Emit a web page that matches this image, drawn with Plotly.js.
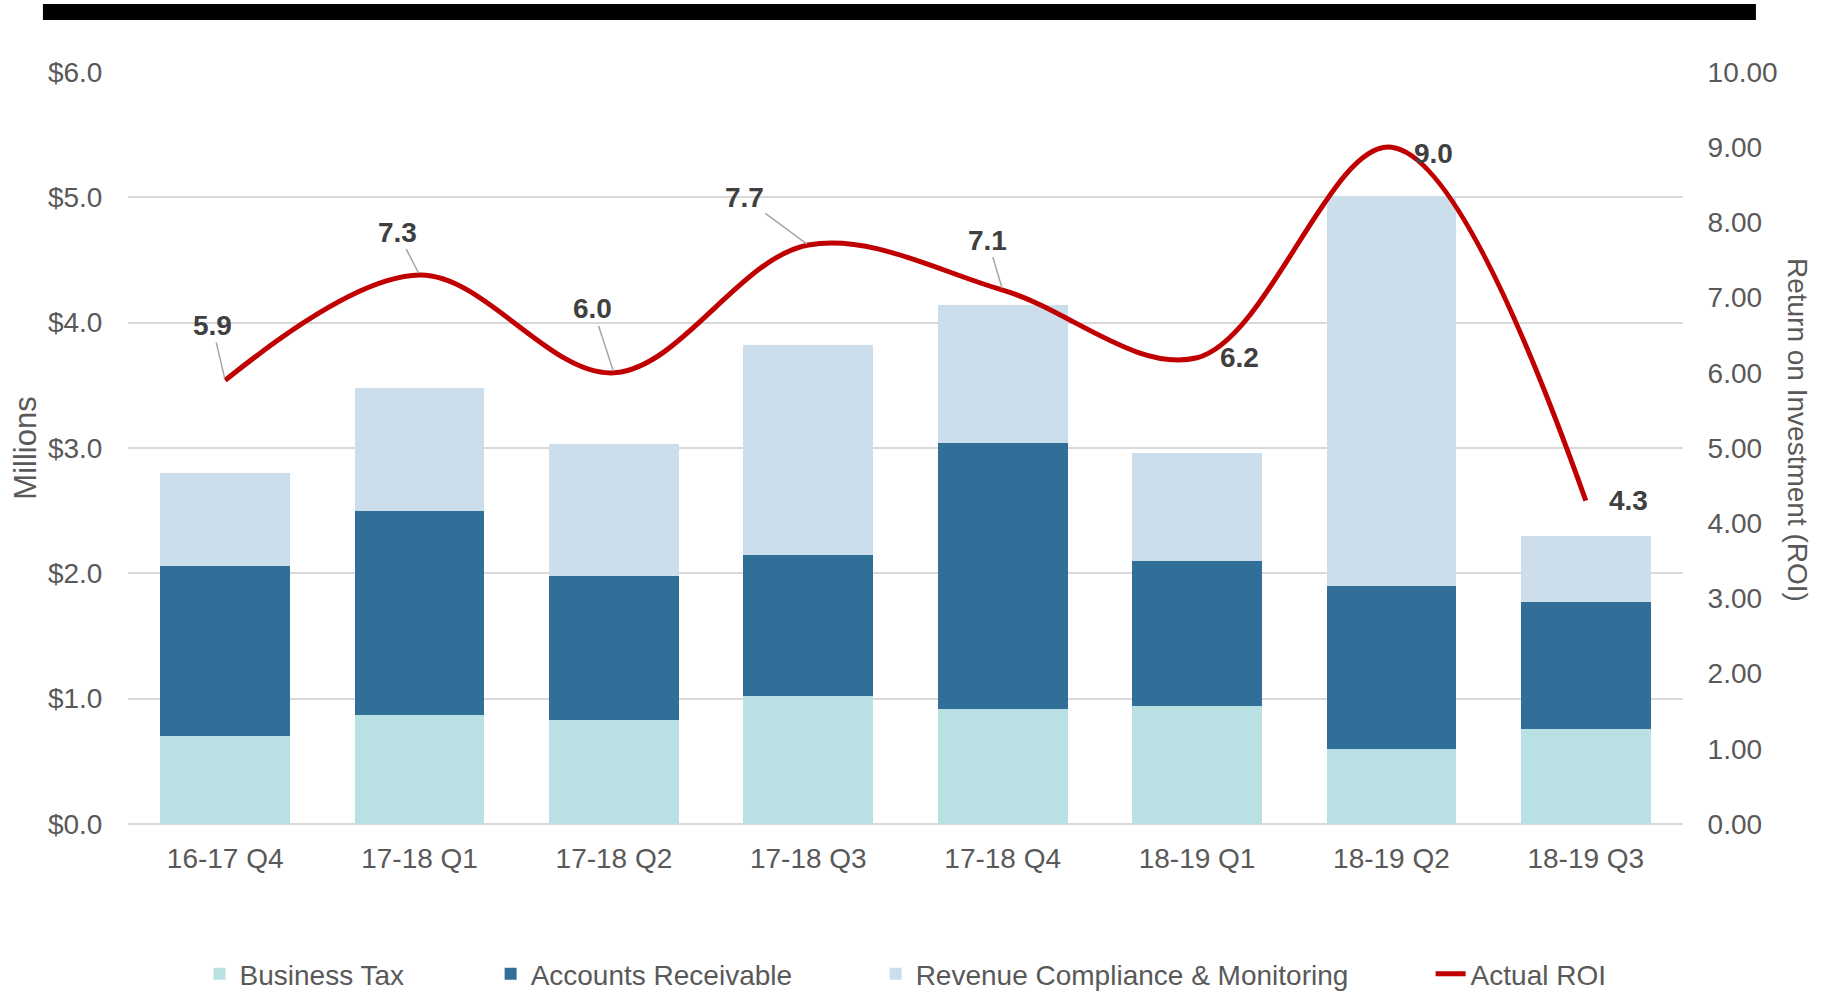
<!DOCTYPE html>
<html><head><meta charset="utf-8">
<script src="https://cdn.plot.ly/plotly-3.0.1.min.js"></script>
<style>html,body{margin:0;padding:0;background:#fff;} #chart{width:1827px;height:992px;}</style>
</head><body><div id="chart"></div>
<script>
// ---- data ----
const categories = ['16-17 Q4','17-18 Q1','17-18 Q2','17-18 Q3','17-18 Q4','18-19 Q1','18-19 Q2','18-19 Q3'];
const businessTax = [0.70, 0.87, 0.83, 1.02, 0.92, 0.94, 0.60, 0.76];
const accountsReceivable = [1.36, 1.63, 1.15, 1.13, 2.12, 1.16, 1.30, 1.01];
const revenueCompliance = [0.74, 0.98, 1.05, 1.67, 1.10, 0.86, 3.11, 0.53];
const actualROI = [5.9, 7.3, 6.0, 7.7, 7.1, 6.2, 9.0, 4.3];
const seriesNames = ['Business Tax', 'Accounts Receivable', 'Revenue Compliance & Monitoring', 'Actual ROI'];

// ---- styles / label placement ----
const FONT = 'Liberation Sans, Arial, sans-serif';
const GREY = '#595959';
const colors = ['#B9E0E3', '#316F99', '#CCDEEB', '#C00000'];
// label offset (px) from its point, and whether a leader line is drawn
const labelPlacement = [
  {dx: -13, dy: -55, leader: true},
  {dx: -22, dy: -43, leader: true},
  {dx: -21, dy: -64, leader: true},
  {dx: -64, dy: -47, leader: true},
  {dx: -15, dy: -50, leader: true},
  {dx: 42, dy: 0, leader: false},
  {dx: 42, dy: 6, leader: false},
  {dx: 43, dy: 0, leader: false}
];
const legendX = [0.0460, 0.2332, 0.4808, 0.8377];

const traces = [
  {type: 'bar', name: seriesNames[0], x: categories, y: businessTax, marker: {color: colors[0]}, legend: 'legend'},
  {type: 'bar', name: seriesNames[1], x: categories, y: accountsReceivable, marker: {color: colors[1]}, legend: 'legend2'},
  {type: 'bar', name: seriesNames[2], x: categories, y: revenueCompliance, marker: {color: colors[2]}, legend: 'legend3'},
  {type: 'scatter', mode: 'lines', name: seriesNames[3], x: categories, y: actualROI, yaxis: 'y2',
   line: {color: colors[3], width: 5, shape: 'spline', smoothing: 1}, legend: 'legend4'}
];

const annotations = actualROI.map((v, i) => {
  const p = labelPlacement[i];
  const a = {
    x: categories[i], y: v, xref: 'x', yref: 'y2',
    text: v.toFixed(1),
    font: {family: FONT, size: 28, color: '#404040', weight: 'bold'},
  };
  if (p.leader) {
    Object.assign(a, {showarrow: true, ax: p.dx, ay: p.dy, arrowhead: 0, arrowwidth: 1.5, arrowcolor: '#A6A6A6', standoff: 2});
  } else {
    Object.assign(a, {showarrow: false, xshift: p.dx, yshift: -p.dy});
  }
  return a;
});
annotations.push({
  xref: 'paper', yref: 'paper', x: 1.0733, y: 0.524, xanchor: 'center', yanchor: 'middle',
  text: 'Return on Investment (ROI)',
  textangle: 90, showarrow: false, font: {family: FONT, size: 28, color: GREY}
});

function legendCfg(x) {
  return {orientation: 'h', x: x, xanchor: 'left', yref: 'container', y: 0.018, yanchor: 'middle',
          font: {family: FONT, size: 28, color: GREY}, bgcolor: 'rgba(0,0,0,0)', borderwidth: 0};
}

const layout = {
  width: 1827, height: 992,
  margin: {l: 128, r: 144, t: 72, b: 168, autoexpand: false},
  paper_bgcolor: '#fff', plot_bgcolor: '#fff',
  font: {family: FONT, size: 28, color: GREY},
  barmode: 'stack', bargap: 0.333,
  showlegend: true,
  legend: legendCfg(legendX[0]),
  legend2: legendCfg(legendX[1]),
  legend3: legendCfg(legendX[2]),
  legend4: legendCfg(legendX[3]),
  xaxis: {type: 'category', showgrid: false, showline: false, zeroline: false,
          ticks: 'outside', ticklen: 9, tickcolor: 'rgba(0,0,0,0)',
          tickfont: {family: FONT, size: 28, color: GREY}},
  yaxis: {range: [0, 6], dtick: 1, tickprefix: '$', tickformat: '.1f',
          showgrid: true, gridcolor: '#D9D9D9', gridwidth: 2,
          zeroline: true, zerolinecolor: '#D9D9D9', zerolinewidth: 2, showline: false,
          ticks: 'outside', ticklen: 19, tickcolor: 'rgba(0,0,0,0)',
          tickfont: {family: FONT, size: 28, color: GREY},
          title: {text: 'Millions', font: {family: FONT, size: 31, color: GREY}, standoff: 2}},
  yaxis2: {range: [0, 10], dtick: 1, tickformat: '.2f', overlaying: 'y', side: 'right',
           showgrid: false, zeroline: false, showline: false,
           ticks: 'outside', ticklen: 18, tickcolor: 'rgba(0,0,0,0)',
           tickfont: {family: FONT, size: 28, color: GREY}},
  shapes: [{type: 'rect', xref: 'paper', yref: 'paper', x0: -0.0547, x1: 1.0469, y0: 1.0691, y1: 1.0904,
            fillcolor: '#000', line: {width: 0}}],
  annotations: annotations,
  hovermode: false
};

Plotly.newPlot('chart', traces, layout, {displayModeBar: false, staticPlot: true});
</script>
</body></html>
